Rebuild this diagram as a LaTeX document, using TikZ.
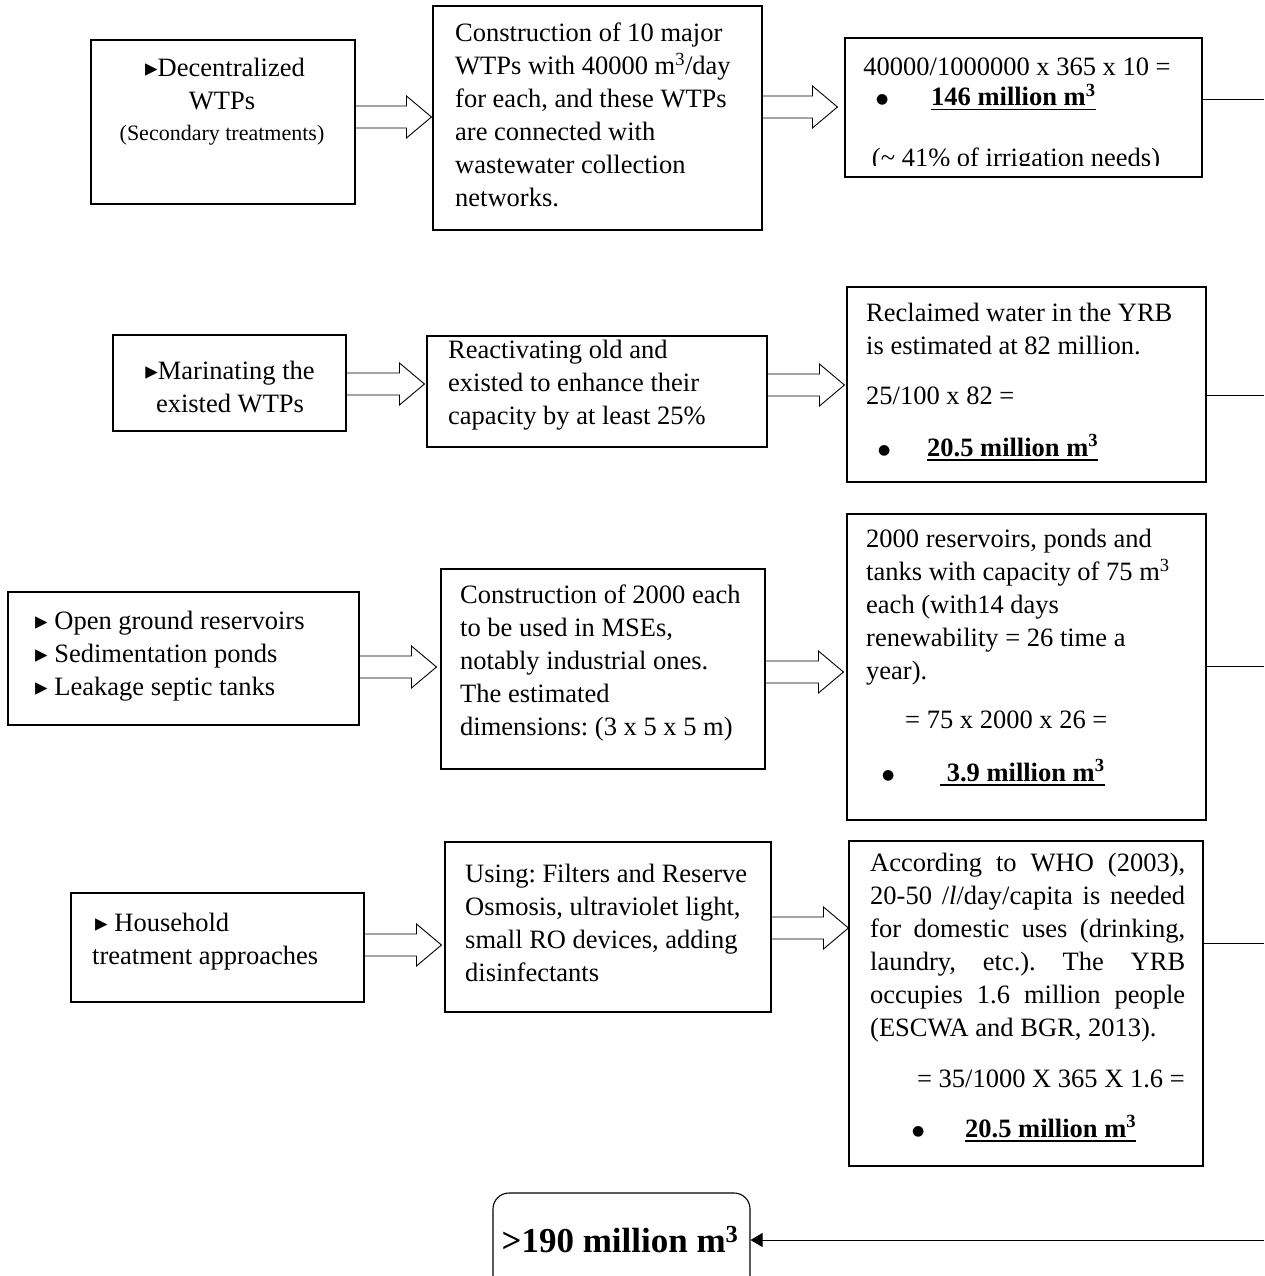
\documentclass[tikz,border=0pt]{standalone}
\usepackage{fontspec}
\setmainfont{Liberation Serif}
\newfontfamily\symf{DejaVu Sans}
\usetikzlibrary{calc,fit,arrows.meta}
\frenchspacing
\newcommand\tri{{\symf\fontsize{25}{25}\selectfont ▸}}
\newcommand\myul[1]{\setbox0=\hbox{#1}\rlap{\rule[-4.5pt]{\wd0}{1.8pt}}\box0}
\newcommand\bul[2]{\makebox[#1][l]{\raisebox{2pt}{\symf\fontsize{14}{14}\selectfont ●}}\myul{\textbf{#2}}}
\newcommand\blkarr[4]{% from, to, y, gap at tip
  \draw[blockarrow] let \p1=(#1.east |- 0,#3), \p2=(#2.west |- 0,#3) in
   (\x1,\y1+11) -- (\x2-#4-25,\y1+11) -- (\x2-#4-25,\y1+21) -- (\x2-#4,\y1)
   -- (\x2-#4-25,\y1-21) -- (\x2-#4-25,\y1-11) -- (\x1,\y1-11);}
\begin{document}
\begin{tikzpicture}[x=1pt,y=-1pt,
  box/.style={draw, line width=1.1pt, inner sep=0pt},
  txt/.style={inner sep=0pt, font=\fontsize{26.5}{33}\selectfont, align=left},
  ctxt/.style={inner sep=0pt, font=\fontsize{26.5}{33}\selectfont},
  blockarrow/.style={draw, line width=0.9pt, line join=miter},
  conn/.style={line width=1pt}]
\useasboundingbox (0,0) rectangle (1264,1276);
\clip (0,0) rectangle (1264,1276);

% boxes
\node[box, fit={(91,40)(355,204)}] (A1) {};
\node[box, fit={(433,6)(762,230)}] (B1) {};
\node[box, fit={(845,38)(1202,177)}] (C1) {};
\node[box, fit={(113,335)(346,431)}] (A2) {};
\node[box, fit={(427,336)(767,447)}] (B2) {};
\node[box, fit={(847,287)(1206,482)}] (C2) {};
\node[box, fit={(8,592)(359,725)}] (A3) {};
\node[box, fit={(441,569)(765,769)}] (B3) {};
\node[box, fit={(847,514)(1206,820)}] (C3) {};
\node[box, fit={(71,893)(364,1002)}] (A4) {};
\node[box, fit={(445,842)(771,1012)}] (B4) {};
\node[box, fit={(849,841)(1203,1166)}] (C4) {};
\node[box, rounded corners=16pt, fit={(493,1193)(750,1300)}] (D) {};

% row 1 text
\node[ctxt, anchor=base] (a1l1) at (225,77) {\tri Decentralized};
\node[ctxt, anchor=base] (a1l2) at (222,110) {WTPs};
\node[ctxt, anchor=base, font=\fontsize{22}{26}\selectfont] (a1l3) at (222,141) {(Secondary treatments)};
\node[txt, anchor=north west] (b1t) at (455,21) {\rule{0pt}{20pt}Construction of 10 major\\WTPs with 40000 m\textsuperscript{3}/day\\for each, and these WTPs\\are connected with\\wastewater collection\\networks.};
\node[ctxt, anchor=base] (c1l1) at (1017,76) {40000/1000000 x 365 x 10 =};
\node[ctxt, anchor=base west] (c1l2) at (876,106) {\bul{55pt}{146 million m\textsuperscript{3}}};
\begin{scope}
\clip (845,38) rectangle (1202,166);
\node[ctxt, anchor=base] (c1l3) at (1016,167) {(\textasciitilde{} 41\% of irrigation needs)};
\end{scope}

% row 2 text
\node[ctxt, anchor=base] (a2l1) at (230,379) {\tri Marinating the};
\node[ctxt, anchor=base] (a2l2) at (230,412) {existed WTPs};
\node[txt, anchor=north west] (b2t) at (448,338) {\rule{0pt}{20pt}Reactivating old and\\existed to enhance their\\capacity by at least 25\%};
\node[txt, anchor=north west] (c2t) at (866,301) {\rule{0pt}{20pt}Reclaimed water in the YRB\\is estimated at 82 million.};
\node[ctxt, anchor=base west] (c2l3) at (866,404) {25/100 x 82 =};
\node[ctxt, anchor=base west] (c2l4) at (878,456) {\bul{49pt}{20.5 million m\textsuperscript{3}}};

% row 3 text
\node[txt, anchor=north west] (a3t) at (35,609) {\rule{0pt}{20pt}\tri\ Open ground reservoirs\\\tri\ Sedimentation ponds\\\tri\ Leakage septic tanks};
\node[txt, anchor=north west] (b3t) at (460,583) {\rule{0pt}{20pt}Construction of 2000 each\\to be used in MSEs,\\notably industrial ones.\\The estimated\\dimensions: (3 x 5 x 5 m)};
\node[txt, anchor=north west] (c3t) at (866,527) {\rule{0pt}{20pt}2000 reservoirs, ponds and\\tanks with capacity of 75 m\textsuperscript{3}\\each (with14 days\\renewability = 26 time a\\year).};
\node[ctxt, anchor=base west] (c3l6) at (905,728) {= 75 x 2000 x 26 =};
\node[ctxt, anchor=base west] (c3l7) at (882,781) {\bul{58pt}{\ 3.9 million m\textsuperscript{3}}};

% row 4 text
\node[ctxt, anchor=base west] (a4l1) at (95,931) {\tri\ Household};
\node[ctxt, anchor=base west] (a4l2) at (92,964) {treatment approaches};
\node[txt, anchor=north west] (b4t) at (465,862) {\rule{0pt}{20pt}Using: Filters and Reserve\\Osmosis, ultraviolet light,\\small RO devices, adding\\disinfectants};
\node[txt, anchor=north west] (c4t) at (870,851) {\rule{0pt}{20pt}\makebox[315pt][s]{According to WHO (2003),}\\\makebox[315pt][s]{20-50 /\textit{l}/day/capita is needed}\\\makebox[315pt][s]{for domestic uses (drinking,}\\\makebox[315pt][s]{laundry, etc.). The YRB}\\\makebox[315pt][s]{occupies 1.6 million people}\\(ESCWA and BGR, 2013).};
\node[ctxt, anchor=base east] (c4l7) at (1185,1087) {= 35/1000 X 365 X 1.6 =};
\node[ctxt, anchor=base west] (c4l8) at (912,1137) {\bul{53pt}{20.5 million m\textsuperscript{3}}};

% total
\node[inner sep=0pt, anchor=base, font=\fontsize{35}{40}\selectfont\bfseries] (dt) at (620,1252) {>190 million m\textsuperscript{3}};

% block arrows
\blkarr{A1}{B1}{117}{1}
\blkarr{B1}{C1}{107}{7}
\blkarr{A2}{B2}{384}{2}
\blkarr{B2}{C2}{385}{2}
\blkarr{A3}{B3}{667}{4}
\blkarr{B3}{C3}{672}{3}
\blkarr{A4}{B4}{945}{3}
\blkarr{B4}{C4}{928}{0}

% connectors to the right edge
\coordinate (e1) at (1264,100);
\coordinate (e2) at (1264,395);
\coordinate (e3) at (1264,666);
\coordinate (e4) at (1264,943);
\coordinate (e5) at (1264,1240);
\draw[conn] (C1.east |- e1) -- (e1);
\draw[conn] (C2.east |- e2) -- (e2);
\draw[conn] (C3.east |- e3) -- (e3);
\draw[conn] (C4.east |- e4) -- (e4);
\draw[conn, -{Triangle[length=12pt,width=14pt]}] (e5) -- (D.east |- e5);
\end{tikzpicture}
\end{document}
